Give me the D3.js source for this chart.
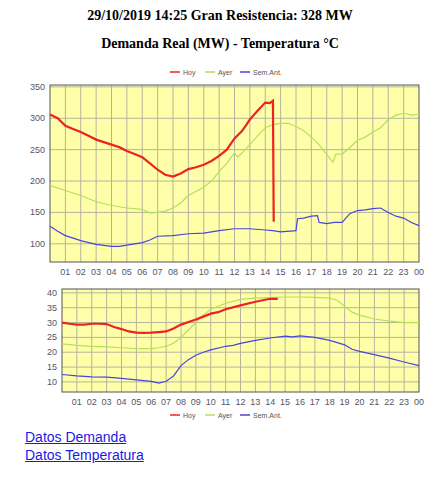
<!DOCTYPE html><html><head><meta charset="utf-8">
<script src="https://cdn.jsdelivr.net/npm/d3@7"></script>
<style>body{margin:0;background:#fff;font-family:Arial,sans-serif}
a{position:absolute;left:25px;color:#1a1ae6;font-size:14px;text-decoration:underline;font-family:Arial,sans-serif}</style></head><body>
<svg id="c" width="440" height="430" style="position:absolute;left:0;top:0"></svg>
<a style="top:429px" href="#">Datos Demanda</a>
<a style="top:447px" href="#">Datos Temperatura</a>
<script>
const hourLabels=["01","02","03","04","05","06","07","08","09","10","11","12","13","14","15","16","17","18","19","20","21","22","23","00"];
const demHoy=[[0,306],[0.5,300],[1,288],[1.5,283],[2,278],[2.5,272],[3,266],[3.5,262],[4,258],[4.5,254],[5,248],[5.5,243],[6,238],[6.5,228],[7,218],[7.5,210],[8,207],[8.5,212],[9,219],[9.5,222],[10,226],[10.5,232],[11,240],[11.5,250],[12,268],[12.5,280],[13,298],[13.5,312],[14,325],[14.3,324],[14.5,328],[14.55,135]];
const demAyer=[[0,193],[1,185],[2,177],[3,167],[4,161],[5,157],[6,155],[6.5,149],[7,150],[7.5,152],[8,157],[8.5,165],[9,177],[10,190],[10.5,200],[11,215],[11.5,228],[12,245],[12.2,238],[12.5,245],[13,258],[13.5,272],[14,285],[14.5,290],[15,292],[15.5,292],[16,287],[16.5,280],[17,270],[17.5,258],[18,242],[18.4,230],[18.6,243],[19,243],[19.5,253],[20,265],[20.5,270],[21,278],[21.5,285],[22,298],[22.5,305],[23,308],[23.5,305],[24,306]];
const demSem=[[0,128],[0.5,120],[1,113],[2,105],[3,99],[4,96],[4.5,96],[5,98],[5.5,100],[6,102],[6.5,106],[7,112],[8,113],[9,116],[10,117],[11,121],[12,124],[13,124],[14,122],[14.5,121],[15,119],[16,121],[16.1,140],[16.5,141],[17,144],[17.4,145],[17.5,134],[18,132],[18.5,134],[19,134],[19.5,148],[20,153],[20.5,154],[21,156],[21.5,157],[22,150],[22.5,144],[23,141],[23.5,134],[24,129]];
const tHoy=[[0,30],[0.5,29.6],[1,29.3],[1.5,29.3],[2,29.6],[2.5,29.6],[3,29.5],[3.5,28.5],[4,27.8],[4.5,27],[5,26.6],[5.5,26.5],[6,26.6],[6.5,26.8],[7,27],[7.5,28],[8,29.3],[9,31],[9.5,32],[10,33],[10.5,33.5],[11,34.5],[12,35.8],[13,37],[13.5,37.5],[14,38],[14.5,38]];
const tAyer=[[0,22.8],[1,22.3],[2,22],[3,21.8],[4,21.5],[5,21.2],[6,21.2],[6.5,21.5],[7,22],[7.5,23],[8,25],[8.5,27.5],[9,30],[9.5,32.5],[10,34.5],[11,36.5],[12,37.8],[13,38.2],[14,38.4],[15,38.6],[16,38.6],[17,38.5],[18,38.2],[18.5,37.5],[19,35.5],[19.5,33.5],[20,32.5],[21,31.2],[22,30.5],[23,30],[24,30]];
const tSem=[[0,12.5],[1,12],[2,11.7],[3,11.6],[4,11.2],[5,10.7],[6,10.2],[6.5,9.6],[7,10.2],[7.5,12],[8,15.5],[8.5,17.5],[9,19],[9.5,20],[10,20.8],[11,22],[11.5,22.3],[12,23],[13,24],[14,24.8],[15,25.4],[15.5,25.2],[16,25.5],[17,25],[18,24],[19,22.5],[19.5,21],[20,20.3],[21,19.2],[22,18],[23,16.7],[24,15.5]];
const demTicks=[100,150,200,250,300,350], tTicks=[10,15,20,25,30,35,40];
const legend=[["Hoy","#ee2222"],["Ayer","#b4e05a"],["Sem.Ant.","#4646dc"]];
const svg=d3.select("#c");
svg.append("text").attr("x",220).attr("y",20).attr("text-anchor","middle").attr("font-family","Liberation Serif,serif").attr("font-weight","bold").attr("font-size",14).text("29/10/2019 14:25 Gran Resistencia: 328 MW");
svg.append("text").attr("x",220).attr("y",48).attr("text-anchor","middle").attr("font-family","Liberation Serif,serif").attr("font-weight","bold").attr("font-size",14).text("Demanda Real (MW) - Temperatura °C");
function leg(y){const g=svg.append("g");let x=[170,205,240];legend.forEach((l,i)=>{g.append("line").attr("x1",x[i]).attr("x2",x[i]+10).attr("y1",y).attr("y2",y).attr("stroke",l[1]).attr("stroke-width",1.5);g.append("text").attr("x",x[i]+13).attr("y",y+2.5).attr("font-size",7).attr("fill","#555").text(l[0]);});}
function chart(x0,x1,y0,y1,dom,ticks,series){
 const x=d3.scaleLinear([0,24],[x0,x1]), y=d3.scaleLinear(dom,[y1,y0]);
 const g=svg.append("g");
 g.append("rect").attr("x",x0).attr("y",y0).attr("width",x1-x0).attr("height",y1-y0).attr("fill","#ffffaa");
 g.selectAll(".v").data(d3.range(1,24)).join("line").attr("x1",d=>x(d)).attr("x2",d=>x(d)).attr("y1",y0).attr("y2",y1).attr("stroke","#b4b4a0");
 g.selectAll(".h").data(ticks).join("line").attr("x1",x0).attr("x2",x1).attr("y1",d=>y(d)).attr("y2",d=>y(d)).attr("stroke","#b4b4a0");
 g.append("rect").attr("x",x0).attr("y",y0).attr("width",x1-x0).attr("height",y1-y0).attr("fill","none").attr("stroke","#555");
 g.selectAll(".yl").data(ticks).join("text").attr("x",x0-5).attr("y",d=>y(d)+3).attr("text-anchor","end").attr("font-size",9).attr("fill","#556").text(d=>d);
 g.selectAll(".xl").data(hourLabels).join("text").attr("x",(d,i)=>x(i+1)).attr("y",y1+13).attr("text-anchor","middle").attr("font-size",9).attr("fill","#556").text(d=>d);
 const ln=d3.line().x(d=>x(d[0])).y(d=>y(d[1]));
 series.forEach(([data,c,w])=>g.append("path").attr("d",ln(data)).attr("fill","none").attr("stroke",c).attr("stroke-width",w));
}
leg(72);
chart(50,419,85,262,[71,353],demTicks,[[demAyer,legend[1][1],1.2],[demSem,legend[2][1],1.2],[demHoy,legend[0][1],2.2]]);
chart(62,419,289,392,[6.6,41.3],tTicks,[[tAyer,legend[1][1],1.2],[tSem,legend[2][1],1.2],[tHoy,legend[0][1],2.2]]);
leg(415);
</script></body></html>
